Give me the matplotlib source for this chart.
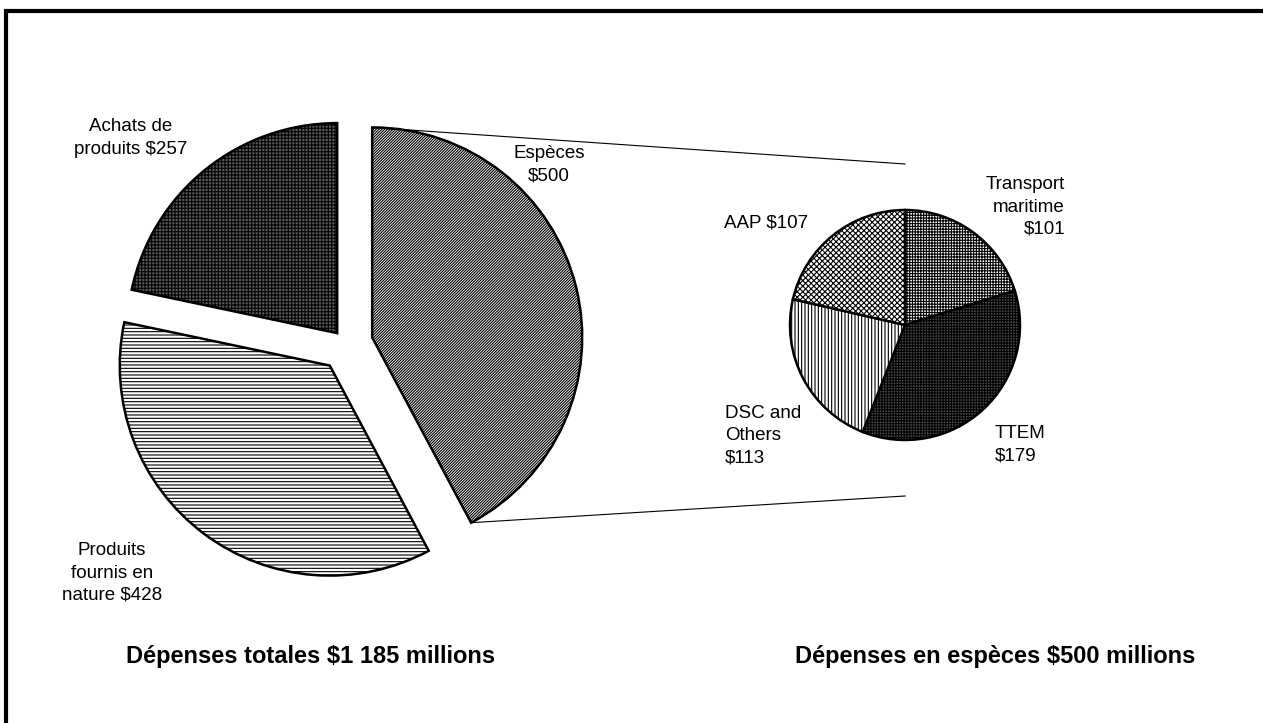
import numpy as np
import matplotlib.pyplot as plt

plt.rcParams['font.family'] = ['Liberation Sans', 'DejaVu Sans']
plt.rcParams['hatch.linewidth'] = 0.8

# total spending (millions)
total_labels = ['Espèces\n$500', 'Produits\nfournis en\nnature $428', 'Achats de\nproduits $257']
total_values = [500, 428, 257]
total_faces = ['white', 'white', '#5a5a5a']
total_hatches = ['////////////', '-----', '+++++']

# cash spending breakdown
cash_labels = ['Transport\nmaritime\n$101', 'TTEM\n$179', 'DSC and\nOthers\n$113', 'AAP $107']
cash_values = [101, 179, 113, 107]
cash_faces = ['white', '#4a4a4a', 'white', 'white']
cash_hatches = ['++++++', '++++++', '|||||', 'xxxxxx']

titles = ['Dépenses totales $1 185 millions', 'Dépenses en espèces $500 millions']

W, H = 1263, 723
fig = plt.figure(figsize=(W / 100, H / 100), dpi=100)
ax = fig.add_axes([0, 0, 1, 1])

# outer frame (left and top edges visible)
ax.plot([6, 6, W + 20], [-20, H - 11, H - 11], color='black', lw=3, solid_joinstyle='miter')

wedges, _ = ax.pie(total_values, center=(346, H - 344), radius=210, startangle=90,
                   counterclock=False, explode=[27, 27, 14], frame=True,
                   wedgeprops=dict(edgecolor='black', linewidth=1.8))
for w, fc, h in zip(wedges, total_faces, total_hatches):
    w.set_facecolor(fc)
    w.set_hatch(h)

wedges2, _ = ax.pie(cash_values, center=(905, H - 325), radius=115, startangle=90,
                    counterclock=False, frame=True,
                    wedgeprops=dict(edgecolor='black', linewidth=1.8))
for w, fc, h in zip(wedges2, cash_faces, cash_hatches):
    w.set_facecolor(fc)
    w.set_hatch(h)

ax.set_xlim(0, W)
ax.set_ylim(0, H)
ax.set_aspect('equal')
ax.axis('off')

# connector lines from the cash wedge towards the second pie
esp = wedges[0]
for ang, yend in [(esp.theta2, H - 164), (esp.theta1, H - 496)]:
    x0 = esp.center[0] + esp.r * np.cos(np.radians(ang))
    y0 = esp.center[1] + esp.r * np.sin(np.radians(ang))
    ax.plot([x0, 905], [y0, yend], color='black', lw=0.8)

fs = 13.5
ls = 1.4
ax.text(549, H - 165, total_labels[0], ha='center', va='center', fontsize=fs, linespacing=ls)
ax.text(112, H - 573, total_labels[1], ha='center', va='center', fontsize=fs, linespacing=ls)
ax.text(131, H - 138, total_labels[2], ha='center', va='center', fontsize=fs, linespacing=ls,
        multialignment='center')

ax.text(1065, H - 207, cash_labels[0], ha='right', va='center', fontsize=fs, linespacing=ls,
        multialignment='right')
ax.text(995, H - 445, cash_labels[1], ha='left', va='center', fontsize=fs, linespacing=ls)
ax.text(725, H - 436, cash_labels[2], ha='left', va='center', fontsize=fs, linespacing=ls)
ax.text(766, H - 223, cash_labels[3], ha='center', va='center', fontsize=fs, linespacing=ls)

ax.text(311, H - 657, titles[0], ha='center', va='center', fontsize=17, fontweight='bold')
ax.text(995, H - 657, titles[1], ha='center', va='center', fontsize=17, fontweight='bold')

fig.savefig('out.png', dpi=100)
